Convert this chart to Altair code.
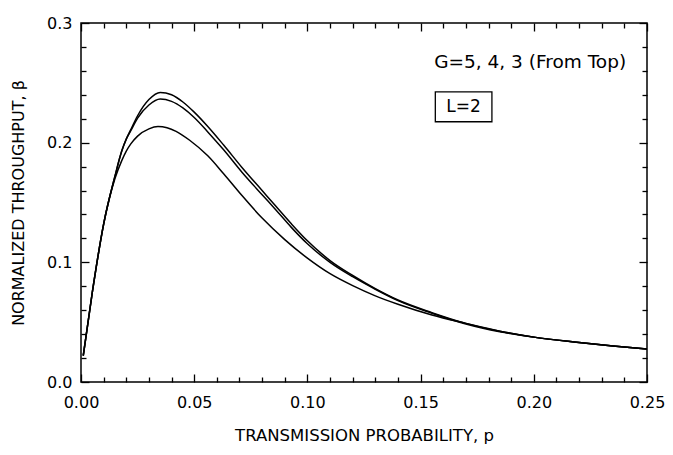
import altair as alt
import pandas as pd

# ---- data ----
p_g5 = [0.001, 0.005, 0.010, 0.015, 0.018, 0.020, 0.022, 0.025, 0.030, 0.035, 0.040,
        0.045, 0.050, 0.056, 0.063, 0.071, 0.080, 0.086, 0.093, 0.100, 0.110, 0.120,
        0.130, 0.140, 0.155, 0.170, 0.185, 0.200, 0.220, 0.235, 0.250]
beta_g5 = [0.022, 0.075, 0.132, 0.172, 0.193, 0.203, 0.211, 0.2225, 0.236, 0.242, 0.240,
           0.234, 0.2255, 0.2135, 0.198, 0.1795, 0.160, 0.147, 0.132, 0.118, 0.1015, 0.089,
           0.078, 0.0685, 0.058, 0.049, 0.0425, 0.0375, 0.033, 0.030, 0.0275]

p_g4 = [0.001, 0.005, 0.010, 0.015, 0.018, 0.020, 0.022, 0.025, 0.030, 0.035, 0.040,
        0.045, 0.050, 0.056, 0.063, 0.071, 0.080, 0.086, 0.093, 0.100, 0.110, 0.120,
        0.130, 0.140, 0.155, 0.170, 0.185, 0.200, 0.220, 0.235, 0.250]
beta_g4 = [0.022, 0.075, 0.132, 0.172, 0.193, 0.203, 0.210, 0.2205, 0.2315, 0.2365, 0.2345,
           0.229, 0.221, 0.209, 0.194, 0.1755, 0.1565, 0.144, 0.129, 0.1155, 0.100, 0.088,
           0.0775, 0.068, 0.0575, 0.0485, 0.042, 0.0375, 0.033, 0.030, 0.0275]

p_g3 = [0.001, 0.005, 0.010, 0.015, 0.018, 0.020, 0.022, 0.025, 0.030, 0.034, 0.038,
        0.042, 0.048, 0.056, 0.063, 0.071, 0.080, 0.090, 0.100, 0.110, 0.120, 0.130,
        0.140, 0.155, 0.170, 0.185, 0.200, 0.220, 0.235, 0.250]
beta_g3 = [0.022, 0.075, 0.132, 0.170, 0.185, 0.193, 0.199, 0.2055, 0.2115, 0.2135, 0.2125,
           0.2095, 0.202, 0.189, 0.174, 0.156, 0.137, 0.119, 0.1035, 0.0905, 0.0805, 0.072,
           0.065, 0.056, 0.049, 0.0425, 0.0375, 0.033, 0.030, 0.0275]

series = [("G=5", p_g5, beta_g5), ("G=4", p_g4, beta_g4), ("G=3", p_g3, beta_g3)]

x_major = [0.0, 0.05, 0.10, 0.15, 0.20, 0.25]
x_minor = [0.01, 0.02, 0.03, 0.04, 0.06, 0.07, 0.08, 0.09, 0.11, 0.12, 0.13, 0.14,
           0.16, 0.17, 0.18, 0.19, 0.21, 0.22, 0.23, 0.24]
y_major = [0.0, 0.1, 0.2, 0.3]
y_minor = [0.02, 0.04, 0.06, 0.08, 0.12, 0.14, 0.16, 0.18, 0.22, 0.24, 0.26, 0.28]

ann_text = ["G=5, 4, 3 (From Top)", "L=2"]

rows = []
for g, ps, bs in series:
    for p, b in zip(ps, bs):
        rows.append({"G": g, "p": p, "beta": b})
df = pd.DataFrame(rows)

W, H = 566, 359
XD, YD = [0, 0.25], [0, 0.3]
FONT = "DejaVu Sans"
xs = alt.Scale(domain=XD, nice=False, zero=False)
ys = alt.Scale(domain=YD, nice=False, zero=False)


def tick_axis(orient, values, size, offset):
    return alt.Axis(orient=orient, values=values, tickSize=size, offset=offset,
                    labels=False, domain=False, grid=False, title=None, ticks=True,
                    tickColor="black", tickWidth=1.3)


def layer(xaxis, yaxis, visible=False):
    return alt.Chart(df).mark_line(
        color="black", strokeWidth=1.5, interpolate="monotone",
        opacity=1 if visible else 0
    ).encode(
        x=alt.X("p:Q", scale=xs, axis=xaxis),
        y=alt.Y("beta:Q", scale=ys, axis=yaxis),
        detail="G:N",
    )


x_main = alt.Axis(orient="bottom", values=x_major, format=".2f", ticks=False, domain=False,
                  grid=False, labelFont=FONT, labelFontSize=16, labelPadding=12,
                  labelColor="black", labelFlush=False, labelOverlap=False,
                  title="TRANSMISSION PROBABILITY, p", titleFont=FONT, titleFontSize=16.5,
                  titleFontWeight="normal", titlePadding=17, titleColor="black")
y_main = alt.Axis(orient="left", values=y_major, format=".1f", ticks=False, domain=False,
                  grid=False, labelFont=FONT, labelFontSize=16, labelPadding=9,
                  labelColor="black", labelFlush=False, labelOverlap=False,
                  title="NORMALIZED THROUGHPUT, β", titleFont=FONT, titleFontSize=16,
                  titleFontWeight="normal", titlePadding=20, titleColor="black")

l_main = layer(x_main, y_main, visible=True)
l_b_major = layer(tick_axis("top", x_major, 8, -H), tick_axis("right", y_major, 8, -W))
l_b_minor = layer(tick_axis("top", x_minor, 5, -H), tick_axis("right", y_minor, 5, -W))
l_t_major = layer(tick_axis("bottom", x_major, 8, -H), tick_axis("left", y_major, 8, -W))
l_t_minor = layer(tick_axis("bottom", x_minor, 5, -H), tick_axis("left", y_minor, 5, -W))

ann_df = pd.DataFrame({"x": [0.156], "y": [0.267], "t": [ann_text[0]]})
ann = alt.Chart(ann_df).mark_text(align="left", baseline="middle", font=FONT,
                                  fontSize=18.5, color="black").encode(
    x=alt.X("x:Q", scale=xs, axis=None),
    y=alt.Y("y:Q", scale=ys, axis=None),
    text="t:N",
)

box_df = pd.DataFrame({"x": [0.1565], "x2": [0.1815], "y": [0.2175], "y2": [0.2425]})
box = alt.Chart(box_df).mark_rect(fillOpacity=0, stroke="black", strokeWidth=1.3).encode(
    x=alt.X("x:Q", scale=xs, axis=None), x2="x2:Q",
    y=alt.Y("y:Q", scale=ys, axis=None), y2="y2:Q",
)

lab_df = pd.DataFrame({"x": [0.169], "y": [0.230], "t": [ann_text[1]]})
lab = alt.Chart(lab_df).mark_text(align="center", baseline="middle", font=FONT,
                                  fontSize=17, color="black").encode(
    x=alt.X("x:Q", scale=xs, axis=None),
    y=alt.Y("y:Q", scale=ys, axis=None),
    text="t:N",
)

chart = alt.layer(
    l_b_major, l_b_minor, l_t_major, l_t_minor, l_main, ann, box, lab
).resolve_scale(
    x="independent", y="independent"
).properties(
    width=W, height=H,
    padding={"left": 73, "top": 15, "right": 18, "bottom": 62},
    autosize=alt.AutoSizeParams(type="none"),
    background="white",
).configure_view(
    stroke="black", strokeWidth=1.5
)

chart.save("out.html", embed_options={"renderer": "svg", "actions": False})
